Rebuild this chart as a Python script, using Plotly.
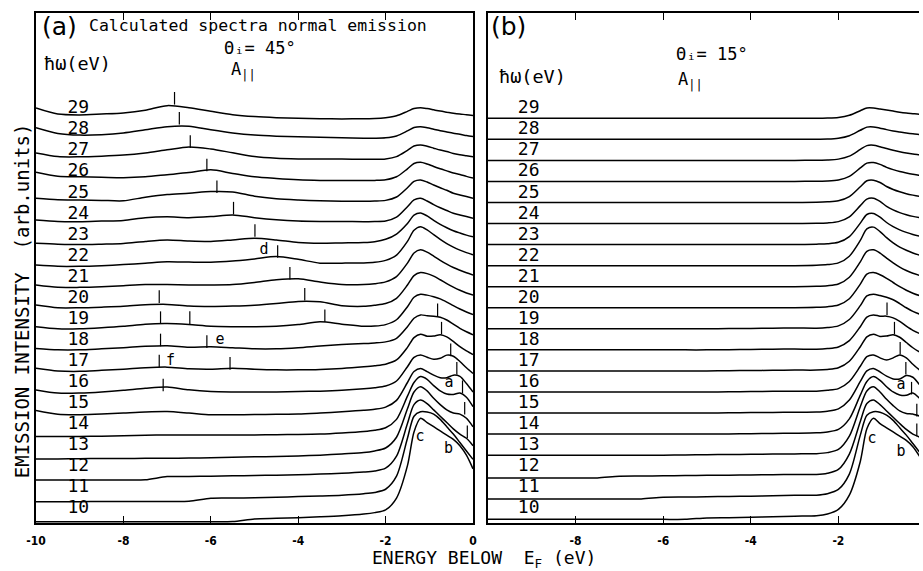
import plotly.graph_objects as go

# ---------------- data ----------------
# energy grid (eV below E_F)
XA = [-10, -9.5, -9, -8.5, -8, -7.5, -7, -6.5, -6, -5.5, -5, -4.5, -4, -3.5, -3,
      -2.5, -2.25, -2, -1.75, -1.5, -1.35, -1.2, -1.05, -0.9, -0.75, -0.6, -0.45, -0.3, -0.15, 0]

photon_energies = list(range(10, 30))

# panel (a): theta_i = 45 deg, intensity above each curve's own baseline (arb. units)
a29 = [0.49, 0.2, 0.16, 0.2, 0.25, 0.38, 0.6, 0.5, 0.33, 0.17, 0.08, 0.03, 0.0, -0.02, -0.03,
       -0.02, -0.01, 0.03, 0.12, 0.33, 0.46, 0.5, 0.46, 0.4, 0.34, 0.29, 0.24, 0.2, 0.17, 0.13]
a28 = [0.55, 0.28, 0.2, 0.22, 0.3, 0.45, 0.6, 0.62, 0.45, 0.3, 0.2, 0.15, 0.12, 0.1, 0.07,
       0.05, 0.05, 0.07, 0.16, 0.4, 0.56, 0.6, 0.55, 0.48, 0.41, 0.35, 0.29, 0.24, 0.18, 0.13]
a27 = [0.35, 0.18, 0.17, 0.2, 0.25, 0.35, 0.5, 0.64, 0.54, 0.36, 0.18, 0.1, 0.07, 0.06, 0.06,
       0.05, 0.05, 0.07, 0.18, 0.48, 0.68, 0.73, 0.67, 0.58, 0.49, 0.42, 0.33, 0.27, 0.22, 0.17]
a26 = [0.44, 0.25, 0.22, 0.2, 0.18, 0.22, 0.32, 0.42, 0.55, 0.38, 0.22, 0.14, 0.08, 0.05, 0.04,
       0.04, 0.05, 0.08, 0.22, 0.6, 0.85, 0.91, 0.83, 0.71, 0.6, 0.5, 0.4, 0.33, 0.24, 0.16]
a25 = [0.2, 0.13, 0.12, 0.1, 0.08, 0.25, 0.38, 0.44, 0.52, 0.5, 0.3, 0.18, 0.12, 0.08, 0.06,
       0.06, 0.07, 0.1, 0.26, 0.7, 1.0, 1.07, 0.97, 0.83, 0.7, 0.58, 0.44, 0.36, 0.28, 0.2]
a24 = [0.17, 0.1, 0.09, 0.12, 0.15, 0.28, 0.32, 0.28, 0.33, 0.41, 0.28, 0.18, 0.12, 0.1, 0.1,
       0.09, 0.1, 0.12, 0.3, 0.8, 1.12, 1.2, 1.07, 0.9, 0.75, 0.62, 0.49, 0.41, 0.33, 0.25]
a23 = [0.06, 0.02, 0.0, 0.02, 0.05, 0.15, 0.22, 0.17, 0.15, 0.22, 0.3, 0.22, 0.1, 0.06, 0.08,
       0.1, 0.14, 0.25, 0.5, 1.0, 1.4, 1.5, 1.36, 1.15, 0.96, 0.8, 0.66, 0.55, 0.45, 0.37]
a22 = [0.03, -0.03, -0.03, 0.0, 0.05, 0.12, 0.19, 0.17, 0.16, 0.22, 0.32, 0.43, 0.3, 0.12, 0.12,
       0.13, 0.16, 0.25, 0.5, 1.15, 1.68, 1.85, 1.7, 1.47, 1.25, 1.05, 0.88, 0.74, 0.62, 0.52]
a21 = [0.08, -0.03, -0.03, 0.0, 0.05, 0.1, 0.1, 0.08, 0.08, 0.1, 0.2, 0.33, 0.38, 0.22, 0.1,
       0.1, 0.14, 0.23, 0.48, 1.12, 1.6, 1.75, 1.64, 1.45, 1.25, 1.07, 0.91, 0.78, 0.66, 0.56]
a20 = [0.13, 0.0, 0.0, 0.03, 0.07, 0.14, 0.16, 0.08, 0.06, 0.08, 0.12, 0.2, 0.3, 0.28, 0.1,
       0.07, 0.12, 0.2, 0.45, 1.08, 1.53, 1.67, 1.62, 1.5, 1.33, 1.15, 0.98, 0.83, 0.7, 0.6]
a19 = [0.1, 0.0, 0.0, 0.05, 0.12, 0.22, 0.25, 0.2, 0.12, 0.1, 0.1, 0.12, 0.2, 0.33, 0.22,
       0.12, 0.13, 0.2, 0.43, 1.05, 1.5, 1.64, 1.6, 1.52, 1.42, 1.27, 1.1, 0.94, 0.8, 0.68]
a18 = [0.07, 0.0, 0.0, 0.05, 0.1, 0.17, 0.2, 0.13, 0.15, 0.1, 0.05, 0.05, 0.1, 0.18, 0.25,
       0.3, 0.33, 0.38, 0.55, 1.1, 1.5, 1.66, 1.62, 1.6, 1.55, 1.42, 1.22, 1.02, 0.86, 0.72]
a17 = [0.13, 0.0, -0.02, 0.03, 0.08, 0.15, 0.18, 0.1, 0.08, 0.13, 0.08, 0.05, 0.05, 0.07, 0.12,
       0.2, 0.25, 0.32, 0.52, 1.12, 1.58, 1.74, 1.65, 1.66, 1.72, 1.62, 1.4, 1.15, 0.95, 0.78]
a16 = [0.1, -0.05, -0.05, 0.0, 0.08, 0.18, 0.24, 0.1, 0.02, 0.0, 0.0, 0.0, 0.02, 0.04, 0.08,
       0.15, 0.2, 0.28, 0.52, 1.2, 1.64, 1.76, 1.65, 1.55, 1.6, 1.75, 1.7, 1.45, 1.15, 0.88]
a15 = [0.12, -0.06, -0.08, -0.05, 0.0, 0.05, 0.07, 0.0, -0.08, -0.08, -0.07, -0.06, -0.05, 0.0, 0.06,
       0.13, 0.18, 0.28, 0.6, 1.45, 1.97, 2.12, 1.97, 1.8, 1.68, 1.68, 1.8, 1.74, 1.4, 1.0]
a14 = [-0.12, -0.12, -0.11, -0.1, -0.08, -0.06, -0.04, -0.04, -0.04, -0.04, -0.04, -0.03, -0.02, 0.0, 0.05,
       0.12, 0.18, 0.3, 0.7, 1.8, 2.45, 2.73, 2.6, 2.3, 2.05, 1.9, 1.88, 1.95, 1.75, 1.3]
a13 = [-0.18, -0.18, -0.17, -0.16, -0.16, -0.15, -0.15, -0.14, -0.12, -0.1, -0.08, -0.07, -0.04, 0.0, 0.06,
       0.12, 0.2, 0.34, 0.85, 2.2, 3.0, 3.25, 3.05, 2.7, 2.4, 2.15, 2.0, 1.95, 1.75, 1.35]
a12 = [-0.18, -0.18, -0.18, -0.18, -0.18, -0.17, -0.02, -0.01, 0.0, 0.02, 0.03, 0.05, 0.07, 0.1, 0.14,
       0.2, 0.25, 0.38, 0.95, 2.5, 3.4, 3.62, 3.45, 3.15, 2.85, 2.55, 2.25, 2.0, 1.8, 1.45]
a11 = [-0.21, -0.21, -0.21, -0.2, -0.2, -0.2, -0.2, -0.19, -0.05, -0.04, -0.02, 0.0, 0.03, 0.06, 0.1,
       0.17, 0.23, 0.38, 1.0, 2.8, 3.85, 4.06, 4.05, 3.95, 3.7, 3.35, 3.0, 2.6, 2.2, 1.8]
a10 = [-0.16, -0.16, -0.16, -0.16, -0.16, -0.16, -0.16, -0.16, -0.16, -0.15, -0.03, 0.0, 0.03, 0.07, 0.12,
       0.2, 0.27, 0.4, 0.96, 2.5, 4.1, 4.75, 4.55, 4.35, 4.15, 3.95, 3.75, 3.45, 3.0, 2.35]

# panel (b): theta_i = 15 deg
b29 = [0, 0, 0, 0, 0, 0, 0, 0, 0, 0, 0, 0, 0, 0, 0,
       0, 0.01, 0.04, 0.14, 0.36, 0.49, 0.49, 0.44, 0.39, 0.34, 0.29, 0.25, 0.22, 0.19, 0.17]
b28 = [0, 0, 0, 0, 0, 0, 0, 0, 0, 0, 0, 0, 0, 0, 0,
       0, 0.01, 0.05, 0.17, 0.43, 0.58, 0.59, 0.53, 0.46, 0.4, 0.35, 0.3, 0.26, 0.23, 0.2]
b27 = [0, 0, 0, 0, 0, 0, 0, 0, 0, 0, 0, 0, 0, 0, 0,
       0.01, 0.02, 0.06, 0.2, 0.52, 0.7, 0.72, 0.65, 0.56, 0.48, 0.41, 0.35, 0.3, 0.26, 0.22]
b26 = [0, 0, 0, 0, 0, 0, 0, 0, 0, 0, 0, 0, 0, 0, 0,
       0.01, 0.02, 0.07, 0.24, 0.64, 0.87, 0.9, 0.81, 0.67, 0.56, 0.47, 0.4, 0.34, 0.29, 0.24]
b25 = [0, 0, 0, 0, 0, 0, 0, 0, 0, 0, 0, 0, 0, 0, 0,
       0.01, 0.03, 0.08, 0.28, 0.75, 1.03, 1.06, 0.95, 0.76, 0.62, 0.51, 0.42, 0.35, 0.29, 0.24]
b24 = [0, 0, 0, 0, 0, 0, 0, 0, 0, 0, 0, 0, 0, 0, 0,
       0.01, 0.03, 0.09, 0.32, 0.85, 1.16, 1.2, 1.05, 0.82, 0.65, 0.52, 0.42, 0.34, 0.28, 0.23]
b23 = [0, 0, 0, 0, 0, 0, 0, 0, 0, 0, 0, 0, 0, 0, 0,
       0.02, 0.04, 0.11, 0.38, 1.02, 1.43, 1.48, 1.3, 1.05, 0.85, 0.7, 0.58, 0.48, 0.4, 0.33]
b22 = [0, 0, 0, 0, 0, 0, 0, 0, 0, 0, 0, 0, 0, 0, 0,
       0.02, 0.05, 0.13, 0.45, 1.2, 1.75, 1.83, 1.62, 1.33, 1.08, 0.88, 0.73, 0.6, 0.5, 0.42]
b21 = [0, 0, 0, 0, 0, 0, 0, 0, 0, 0, 0, 0, 0, 0, 0,
       0.02, 0.05, 0.13, 0.45, 1.18, 1.68, 1.75, 1.6, 1.36, 1.13, 0.93, 0.77, 0.64, 0.54, 0.45]
b20 = [0, 0, 0, 0, 0, 0, 0, 0, 0, 0, 0, 0, 0, 0, 0,
       0.02, 0.05, 0.13, 0.43, 1.12, 1.6, 1.67, 1.57, 1.4, 1.2, 1.0, 0.83, 0.69, 0.58, 0.49]
b19 = [0, 0, 0, 0, 0, 0, 0, 0, 0, 0, 0, 0.01, 0.02, 0.03, 0.04,
       0.03, 0.06, 0.14, 0.44, 1.1, 1.56, 1.64, 1.58, 1.5, 1.38, 1.2, 1.0, 0.83, 0.7, 0.59]
b18 = [0, 0, 0, 0, 0, 0, 0, 0, 0, 0, 0, 0.01, 0.02, 0.03, 0.04,
       0.03, 0.06, 0.14, 0.44, 1.1, 1.56, 1.66, 1.6, 1.6, 1.52, 1.35, 1.13, 0.93, 0.78, 0.66]
b17 = [0, 0, 0, 0, 0, 0, 0, 0, 0, 0, 0, 0.01, 0.02, 0.03, 0.04,
       0.04, 0.07, 0.15, 0.46, 1.15, 1.62, 1.74, 1.64, 1.66, 1.72, 1.6, 1.35, 1.1, 0.9, 0.75]
b16 = [0, 0, 0, 0, 0, 0, 0, 0, 0, 0, 0, 0.01, 0.02, 0.03, 0.04,
       0.04, 0.08, 0.16, 0.5, 1.22, 1.68, 1.76, 1.62, 1.52, 1.62, 1.76, 1.62, 1.32, 1.05, 0.85]
b15 = [0, 0, 0, 0, 0, 0, 0, 0, 0, 0, 0, 0.01, 0.02, 0.03, 0.04,
       0.05, 0.09, 0.2, 0.62, 1.5, 2.0, 2.12, 1.95, 1.75, 1.62, 1.62, 1.78, 1.7, 1.35, 1.0]
b14 = [0, 0, 0, 0, 0, 0, 0, 0, 0, 0, 0, 0.01, 0.02, 0.03, 0.04,
       0.06, 0.1, 0.22, 0.72, 1.85, 2.5, 2.73, 2.55, 2.25, 2.0, 1.86, 1.84, 1.95, 1.7, 1.3]
b13 = [0, 0, 0, 0, 0, 0, 0, 0, 0, 0.01, 0.02, 0.03, 0.04, 0.05, 0.06,
       0.07, 0.12, 0.27, 0.9, 2.3, 3.05, 3.25, 3.0, 2.65, 2.35, 2.1, 1.98, 1.95, 1.85, 1.45]
b12 = [-0.08, -0.08, -0.08, -0.08, -0.08, -0.08, 0.0, 0.01, 0.02, 0.03, 0.04, 0.05, 0.06, 0.07, 0.08,
       0.08, 0.14, 0.32, 1.05, 2.6, 3.45, 3.62, 3.4, 3.1, 2.8, 2.5, 2.22, 2.0, 1.85, 1.5]
b11 = [-0.08, -0.08, -0.08, -0.08, -0.08, -0.08, -0.08, -0.08, 0.0, 0.01, 0.02, 0.04, 0.05, 0.07, 0.09,
       0.1, 0.17, 0.37, 1.1, 2.95, 3.9, 4.06, 4.04, 3.9, 3.65, 3.3, 2.95, 2.55, 2.15, 1.75]
b10 = [-0.05, -0.05, -0.05, -0.05, -0.05, -0.05, -0.05, -0.05, -0.05, -0.05, 0.02, 0.03, 0.05, 0.07, 0.1,
       0.12, 0.2, 0.42, 1.1, 2.7, 4.25, 4.75, 4.5, 4.3, 4.1, 3.9, 3.7, 3.4, 2.95, 2.4]

spectra_a = [a10, a11, a12, a13, a14, a15, a16, a17, a18, a19,
             a20, a21, a22, a23, a24, a25, a26, a27, a28, a29]
spectra_b = [b10, b11, b12, b13, b14, b15, b16, b17, b18, b19,
             b20, b21, b22, b23, b24, b25, b26, b27, b28, b29]

# peak-position markers (energy, height on the stacked scale)
mark_a_E = [-6.83, -6.72, -6.47, -6.09, -5.86, -5.48, -4.99, -4.47, -4.19,
            -7.18, -3.85, -7.15, -6.48, -3.39, -7.15, -6.09, -7.18, -5.56, -7.09,
            -0.81, -0.72, -0.51, -0.37, -0.24, -0.19, -0.13]
mark_a_y = [19.95, 19.0, 17.89, 16.78, 15.75, 14.73, 13.67, 12.67, 11.64,
            10.53, 10.64, 9.53, 9.53, 9.62, 8.47, 8.39, 7.47, 7.36, 6.33,
            9.9, 9.03, 8.0, 7.13, 6.25, 5.23, 4.11]
mark_b_E = [-0.89, -0.72, -0.59, -0.46, -0.33, -0.21, -0.21]
mark_b_y = [9.95, 9.03, 8.08, 7.13, 6.18, 5.14, 4.2]

# feature letters
letters_a = ["d", "e", "f", "a", "b", "c"]
letters_a_E = [-4.78, -5.79, -6.92, -0.55, -0.56, -1.21]
letters_a_y = [12.75, 8.47, 7.47, 6.41, 3.29, 3.83]
letters_b = ["a", "b", "c"]
letters_b_E = [-0.57, -0.57, -1.23]
letters_b_y = [6.33, 3.12, 3.77]

tick_vals_a = [-10, -8, -6, -4, -2, 0]
tick_vals_b = [-8, -6, -4, -2]

# ---------------- figure ----------------
MONO = "DejaVu Sans Mono"
SANS = "DejaVu Sans"
fig = go.Figure()

line_style = dict(color="black", width=1.5, shape="spline", smoothing=0.8)
for k, (hv, sa, sb) in enumerate(zip(photon_energies, spectra_a, spectra_b)):
    fig.add_trace(go.Scatter(x=XA, y=[k + v for v in sa], mode="lines", line=line_style,
                             xaxis="x", yaxis="y", hoverinfo="skip"))
    fig.add_trace(go.Scatter(x=XA, y=[k + v for v in sb], mode="lines", line=line_style,
                             xaxis="x2", yaxis="y2", hoverinfo="skip"))

# hv labels
nums = [str(h) for h in photon_energies]
offs = list(range(len(photon_energies)))
fig.add_trace(go.Scatter(x=[-9.03] * len(nums), y=[o + 0.45 for o in offs], mode="text", text=nums,
                         textfont=dict(family=MONO, size=18, color="black"),
                         xaxis="x", yaxis="y", hoverinfo="skip"))
fig.add_trace(go.Scatter(x=[-9.07] * len(nums), y=[o + 0.45 for o in offs], mode="text", text=nums,
                         textfont=dict(family=MONO, size=18, color="black"),
                         xaxis="x2", yaxis="y2", hoverinfo="skip"))

marker_style = dict(symbol="line-ns", size=9, line=dict(width=1.2, color="black"), color="black")
fig.add_trace(go.Scatter(x=mark_a_E, y=mark_a_y, mode="markers", marker=marker_style,
                         xaxis="x", yaxis="y", hoverinfo="skip"))
fig.add_trace(go.Scatter(x=mark_b_E, y=mark_b_y, mode="markers", marker=marker_style,
                         xaxis="x2", yaxis="y2", hoverinfo="skip"))

fig.add_trace(go.Scatter(x=letters_a_E, y=letters_a_y, mode="text", text=letters_a,
                         textfont=dict(family=MONO, size=15, color="black"),
                         xaxis="x", yaxis="y", hoverinfo="skip"))
fig.add_trace(go.Scatter(x=letters_b_E, y=letters_b_y, mode="text", text=letters_b,
                         textfont=dict(family=MONO, size=15, color="black"),
                         xaxis="x2", yaxis="y2", hoverinfo="skip"))

yr = [-0.223, 24.0]
tickfont = dict(family="DejaVu Sans Condensed, DejaVu Sans", size=12, color="black", weight="bold")
common_x = dict(showline=True, linecolor="black", linewidth=1.8, showgrid=False, zeroline=False,
                ticks="inside", ticklen=7, tickwidth=1.3, tickcolor="black", mirror="ticks",
                tickfont=tickfont, ticklabelstandoff=6)
common_y = dict(range=yr, showline=True, linecolor="black", linewidth=1.8, showgrid=False,
                zeroline=False, showticklabels=False, ticks="", domain=[0, 1])

fig.update_layout(
    width=923, height=571,
    margin=dict(l=36, r=0, t=13, b=48),
    paper_bgcolor="white", plot_bgcolor="white",
    showlegend=False,
    xaxis=dict(domain=[0, 0.4949], range=[-10, 0], tickvals=tick_vals_a,
               ticktext=[str(v) for v in tick_vals_a], anchor="y", **common_x),
    yaxis=dict(anchor="x", mirror=True, **common_y),
    xaxis2=dict(domain=[0.5118, 1.0], range=[-10, -0.16], tickvals=tick_vals_b,
                ticktext=[str(v) for v in tick_vals_b], anchor="y2", **common_x),
    yaxis2=dict(anchor="x2", mirror=False, **common_y),
)

ann_font = dict(family=MONO, size=16.5, color="black")
mid_font = dict(family=MONO, size=17, color="black")
big_font = dict(family=SANS, size=25, color="black")
annotations = [
    dict(x=-9.92, y=23.38, xref="x", yref="y", text="(a)", showarrow=False, xanchor="left",
         font=big_font),
    dict(x=-8.84, y=23.4, xref="x", yref="y", text="Calculated spectra normal emission",
         showarrow=False, xanchor="left", font=ann_font),
    dict(x=-5.74, y=22.36, xref="x", yref="y", text="Θᵢ= 45°", showarrow=False,
         xanchor="left", font=mid_font),
    dict(x=-5.58, y=21.27, xref="x", yref="y", text="A<sub>||</sub>", showarrow=False,
         xanchor="left", font=mid_font),
    dict(x=-9.86, y=21.59, xref="x", yref="y", text="ħω(eV)", showarrow=False,
         xanchor="left", font=dict(family=MONO, size=18.5, color="black")),
    dict(x=-9.98, y=23.34, xref="x2", yref="y2", text="(b)", showarrow=False, xanchor="left",
         font=big_font),
    dict(x=-5.75, y=22.06, xref="x2", yref="y2", text="Θᵢ= 15°", showarrow=False,
         xanchor="left", font=mid_font),
    dict(x=-5.7, y=20.8, xref="x2", yref="y2", text="A<sub>||</sub>", showarrow=False,
         xanchor="left", font=mid_font),
    dict(x=-9.8, y=20.97, xref="x2", yref="y2", text="ħω(eV)", showarrow=False,
         xanchor="left", font=dict(family=MONO, size=18.5, color="black")),
    dict(x=0.507, y=-0.0706, xref="paper", yref="paper", text="ENERGY BELOW  E<sub>F</sub> (eV)",
         showarrow=False, xanchor="center", yanchor="middle",
         font=dict(family=MONO, size=18, color="black")),
    dict(x=-0.0158, y=0.435, xref="paper", yref="paper", text="EMISSION INTENSITY  (arb.units)",
         showarrow=False, textangle=-90, xanchor="center", yanchor="middle",
         font=dict(family=MONO, size=19, color="black")),
]
fig.update_layout(annotations=annotations)

fig.write_html("out.html")
